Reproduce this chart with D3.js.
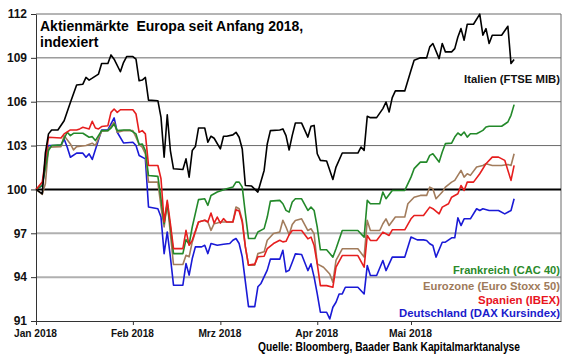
<!DOCTYPE html>
<html><head><meta charset="utf-8">
<script src="https://cdn.jsdelivr.net/npm/d3@7"></script>
<style>
html,body{margin:0;padding:0;background:#fff;}
svg{display:block;font-family:"Liberation Sans",Arial,sans-serif;font-weight:bold;}
</style></head>
<body><svg id="c" width="580" height="358"></svg>
<script>
const yTicks = [91, 94, 97, 100, 103, 106, 109, 112];
const monthTicks = ["2018-01-01", "2018-02-01", "2018-03-01", "2018-04-01", "2018-05-01"];
const monthLabels = ["Jan 2018", "Feb 2018", "Mrz 2018", "Apr 2018", "Mai 2018"];
const title = ["Aktienmärkte  Europa seit Anfang 2018,", "indexiert"];
const source = "Quelle: Bloomberg, Baader Bank Kapitalmarktanalyse";
const seriesNames = ["Italien (FTSE MIB)", "Frankreich (CAC 40)", "Eurozone (Euro Stoxx 50)", "Spanien (IBEX)", "Deutschland (DAX Kursindex)"];

const italien = [["01-01",100],["01-03",99.7],["01-04",102.5],["01-05",103.8],["01-06",104.07],["01-08",104.07],["01-10",104.7],["01-12",105.95],["01-14",107.14],["01-16",107.2],["01-17",107.66],["01-18",107.48],["01-19",107.61],["01-21",107.89],["01-22",108.61],["01-24",108.61],["01-25",109.2],["01-26",108.91],["01-28",108.05],["01-29",108.68],["01-30",109.09],["02-01",109.09],["02-02",108.91],["02-03",107.43],["02-04",107.48],["02-05",107.66],["02-06",106.11],["02-09",106.07],["02-10",104.93],["02-11",102.2],["02-12",105.11],["02-13",102.66],["02-14",101.41],["02-17",101.36],["02-18",102.09],["02-19",100.84],["02-20",102.66],["02-21",102.93],["02-22",104.2],["02-24",104.2],["02-25",103.23],["02-26",103.64],["02-27",103.5],["03-01",102.77],["03-02",103.64],["03-03",103.64],["03-05",103.73],["03-06",103.91],["03-07",103.57],["03-08",102.77],["03-09",100.27],["03-11",100.23],["03-13",99.82],["03-15",101.3],["03-16",103.11],["03-17",104.02],["03-20",104.07],["03-21",104.14],["03-22",103.68],["03-23",102.7],["03-24",103.7],["03-25",104.54],["03-27",104.54],["03-29",103.58],["03-30",104.32],["03-31",104.38],["04-01",102.44],["04-02",101.99],["04-04",101.94],["04-06",100.68],["04-07",101.53],["04-09",102.49],["04-14",102.49],["04-15",102.9],["04-16",102.67],["04-17",105.0],["04-18",104.91],["04-20",104.91],["04-22",105.53],["04-23",105.98],["04-24",105.3],["04-25",106.28],["04-26",106.74],["04-29",106.74],["05-01",108.15],["05-02",108.84],["05-04",109.0],["05-06",109.0],["05-07",109.75],["05-08",109.98],["05-10",108.95],["05-11",109.98],["05-12",109.41],["05-14",109.41],["05-15",109.63],["05-16",110.43],["05-17",111.0],["05-18",110.21],["05-19",111.3],["05-21",111.3],["05-23",111.99],["05-24",110.55],["05-25",111.0],["05-26",109.98],["05-27",110.55],["05-30",110.55],["06-01",111.16],["06-02",108.61],["06-03",108.88]];

const frankreich = [["01-01",100],["01-03",100.27],["01-05",102.66],["01-06",103.0],["01-09",103.05],["01-11",103.91],["01-12",103.68],["01-13",103.84],["01-16",103.84],["01-18",103.57],["01-19",103.61],["01-20",103.34],["01-22",104.02],["01-24",104.02],["01-25",104.2],["01-26",104.48],["01-27",104.02],["01-29",104.07],["01-31",104.07],["02-02",103.8],["02-03",103.07],["02-04",103.11],["02-05",102.66],["02-06",100.95],["02-09",100.89],["02-10",99.36],["02-11",97.66],["02-12",99.02],["02-13",97.43],["02-14",95.61],["02-17",95.61],["02-18",96.57],["02-19",96.25],["02-20",97.43],["02-22",99.3],["02-24",99.36],["02-25",98.91],["02-26",99.59],["02-28",99.82],["03-03",100.05],["03-05",100.16],["03-06",100.5],["03-07",100.5],["03-08",100.16],["03-09",98.34],["03-10",96.64],["03-12",96.64],["03-13",97.09],["03-15",97.32],["03-16",98.11],["03-17",99.2],["03-20",99.25],["03-21",99.02],["03-22",98.57],["03-23",98.45],["03-24",99.14],["03-25",99.36],["03-27",99.36],["03-29",98.56],["03-30",98.79],["03-31",98.56],["04-01",97.42],["04-02",95.87],["04-04",95.87],["04-06",95.37],["04-07",95.94],["04-09",97.19],["04-14",97.19],["04-16",96.74],["04-17",99.25],["04-18",99.02],["04-21",99.02],["04-22",99.82],["04-23",99.36],["04-25",99.93],["04-29",99.93],["05-01",100.84],["05-02",101.42],["05-04",101.87],["05-06",101.87],["05-07",102.33],["05-08",102.44],["05-10",101.87],["05-11",102.56],["05-12",103.13],["05-14",103.17],["05-15",103.58],["05-16",103.86],["05-17",103.7],["05-18",103.93],["05-19",103.58],["05-20",103.81],["05-22",103.81],["05-24",104.04],["05-25",104.27],["05-26",104.32],["05-30",104.32],["06-01",104.61],["06-02",105.07],["06-03",105.8]];

const eurozone = [["01-01",100],["01-03",99.66],["01-04",100.39],["01-05",102.89],["01-09",102.93],["01-10",103.68],["01-12",103.11],["01-13",102.7],["01-14",102.93],["01-17",103.0],["01-19",103.16],["01-20",103.0],["01-22",103.98],["01-24",104.02],["01-26",104.59],["01-27",103.91],["01-29",104.02],["02-01",104.02],["02-02",103.57],["02-03",103.07],["02-04",102.89],["02-05",102.43],["02-06",100.5],["02-09",100.5],["02-10",98.8],["02-11",97.43],["02-12",99.14],["02-13",96.98],["02-14",94.86],["02-17",94.86],["02-18",95.5],["02-19",95.39],["02-20",96.41],["02-22",97.77],["02-24",97.89],["02-25",97.77],["02-26",97.2],["02-27",97.66],["02-28",97.7],["03-01",97.77],["03-05",97.77],["03-06",98.8],["03-07",98.68],["03-08",97.89],["03-09",96.07],["03-10",94.82],["03-12",94.82],["03-13",95.61],["03-15",95.73],["03-16",96.52],["03-18",96.98],["03-20",97.09],["03-21",97.89],["03-22",97.43],["03-23",96.9],["03-24",97.6],["03-25",97.88],["03-27",97.99],["03-29",97.19],["03-30",97.31],["03-31",96.96],["04-01",94.91],["04-03",94.68],["04-05",94.22],["04-06",93.65],["04-07",95.14],["04-09",95.94],["04-14",95.94],["04-16",95.37],["04-17",97.88],["04-18",97.19],["04-21",97.19],["04-22",97.65],["04-23",97.99],["04-24",97.53],["04-26",98.11],["04-29",98.11],["04-30",99.02],["05-02",99.47],["05-04",99.59],["05-06",99.59],["05-07",100.16],["05-08",100.05],["05-09",99.36],["05-11",99.82],["05-12",100.16],["05-14",100.5],["05-15",100.62],["05-17",101.3],["05-18",100.84],["05-19",101.07],["05-20",100.96],["05-22",101.53],["05-24",101.64],["05-25",101.76],["05-27",101.64],["05-30",101.64],["06-01",101.71],["06-02",101.64],["06-03",102.44]];

const spanien = [["01-01",100],["01-03",100.5],["01-05",103.57],["01-09",103.52],["01-10",103.8],["01-12",104.07],["01-14",104.07],["01-15",104.14],["01-16",104.25],["01-18",104.14],["01-19",104.66],["01-20",104.2],["01-21",104.14],["01-22",104.3],["01-24",104.36],["01-25",105.27],["01-26",105.5],["01-27",105.27],["01-28",105.45],["02-01",105.45],["02-02",105.16],["02-03",103.91],["02-04",104.02],["02-05",103.8],["02-06",101.64],["02-09",101.64],["02-10",100.73],["02-11",97.77],["02-12",99.25],["02-13",97.66],["02-14",95.95],["02-17",95.95],["02-18",97.2],["02-19",96.18],["02-20",96.52],["02-22",97.77],["02-24",97.89],["02-25",97.77],["02-26",98.39],["02-27",97.7],["02-28",98.11],["03-01",97.7],["03-02",98.0],["03-03",97.77],["03-05",97.77],["03-06",98.61],["03-07",98.52],["03-08",97.77],["03-09",96.07],["03-10",94.82],["03-12",94.89],["03-13",95.39],["03-15",95.43],["03-16",95.95],["03-18",96.3],["03-20",96.52],["03-21",96.41],["03-22",96.45],["03-23",96.9],["03-24",97.19],["03-25",97.19],["03-27",97.19],["03-29",96.62],["03-30",96.74],["03-31",96.16],["04-01",94.91],["04-02",93.42],["04-04",93.42],["04-06",93.31],["04-07",94.68],["04-09",95.48],["04-14",95.48],["04-16",94.68],["04-17",96.85],["04-18",96.51],["04-20",96.51],["04-22",97.08],["04-24",96.85],["04-25",97.24],["04-29",97.24],["05-01",97.99],["05-02",98.22],["05-05",98.22],["05-07",98.79],["05-08",98.68],["05-10",98.33],["05-11",98.79],["05-13",99.02],["05-14",99.47],["05-16",99.7],["05-17",100.27],["05-18",99.93],["05-19",100.5],["05-21",100.5],["05-23",101.07],["05-25",101.76],["05-27",102.21],["05-29",102.21],["05-31",101.99],["06-02",100.62],["06-03",101.64]];

const deutschland = [["01-01",100],["01-03",100.27],["01-05",103.0],["01-09",103.0],["01-10",103.45],["01-11",102.89],["01-12",102.2],["01-14",102.48],["01-16",102.48],["01-17",102.2],["01-18",102.43],["01-19",102.05],["01-22",104.07],["01-24",104.07],["01-26",104.89],["01-27",103.91],["01-29",103.18],["02-01",103.23],["02-02",103.0],["02-03",102.32],["02-05",102.09],["02-06",98.8],["02-09",98.68],["02-10",98.11],["02-11",95.61],["02-12",97.09],["02-13",95.39],["02-14",93.45],["02-17",93.45],["02-18",94.93],["02-19",94.14],["02-20",95.27],["02-21",96.07],["02-23",96.07],["02-24",96.18],["02-25",95.61],["02-26",96.3],["02-28",96.18],["03-02",96.25],["03-04",96.3],["03-05",96.52],["03-06",96.64],["03-07",96.3],["03-08",95.39],["03-10",91.98],["03-12",91.98],["03-13",93.34],["03-14",93.57],["03-16",94.48],["03-17",95.23],["03-20",95.23],["03-21",95.84],["03-22",94.36],["03-23",94.47],["03-24",95.02],["03-25",95.59],["03-27",95.55],["03-29",94.45],["03-30",94.91],["03-31",94.0],["04-01",92.85],["04-02",91.6],["04-04",91.6],["04-05",91.14],["04-06",91.94],["04-07",92.28],["04-08",92.85],["04-09",92.85],["04-10",93.31],["04-14",93.31],["04-16",92.85],["04-17",94.79],["04-18",94.11],["04-20",94.11],["04-22",95.14],["04-23",94.45],["04-25",95.37],["04-29",95.37],["05-01",96.74],["05-03",96.55],["05-05",96.55],["05-06",96.51],["05-07",96.28],["05-08",96.16],["05-09",95.37],["05-11",96.39],["05-12",96.39],["05-14",96.69],["05-15",96.69],["05-16",98.06],["05-17",97.53],["05-18",97.99],["05-20",97.99],["05-22",98.68],["05-23",98.56],["05-24",98.68],["05-26",98.56],["05-29",98.56],["05-31",98.33],["06-02",98.56],["06-03",99.36]];

const parse = d3.timeParse("%Y-%m-%d");
const svg = d3.select("#c");
const x = d3.scaleTime().domain([parse("2018-01-01"), parse("2018-06-18")]).range([36, 561]);
const y = d3.scaleLinear().domain([91, 112]).range([321, 14]);

// grid lines
const grid = svg.append("g");
yTicks.filter(v => v !== 91 && v !== 100).forEach(v => {
  const light = v < 100;
  grid.append("line").attr("x1", 36).attr("x2", 561).attr("y1", y(v)).attr("y2", y(v))
    .attr("stroke", light ? "#b0b0b0" : "#6a6a6a").attr("stroke-width", light ? 2 : 1);
});
// right frame
grid.append("line").attr("x1", 561).attr("x2", 561).attr("y1", y(112)).attr("y2", y(91))
  .attr("stroke", "#6a6a6a").attr("stroke-width", 1);

// y axis
const yAxis = svg.append("g").attr("transform", "translate(36,0)")
  .call(d3.axisLeft(y).tickValues(yTicks).tickSize(5).tickSizeOuter(0).tickPadding(4).tickFormat(d3.format("d")));
yAxis.select(".domain").attr("stroke", "#333");
yAxis.selectAll(".tick line").attr("stroke", "#333");
yAxis.selectAll("text").attr("font-size", 12).attr("font-weight", "bold").attr("fill", "#111")
  .attr("font-family", "'Liberation Sans', Arial, sans-serif");

// x axis
const xAxis = svg.append("g").attr("transform", "translate(0," + y(91) + ")")
  .call(d3.axisBottom(x).tickValues(monthTicks.map(parse)).tickSize(4).tickSizeOuter(0).tickPadding(4)
    .tickFormat((d, i) => monthLabels[i]));
xAxis.select(".domain").attr("stroke", "#333");
xAxis.selectAll(".tick line").attr("stroke", "#333");
xAxis.selectAll("text").attr("font-size", 11).attr("font-weight", "bold").attr("fill", "#111")
  .attr("font-family", "'Liberation Sans', Arial, sans-serif")
  .attr("textLength", 43).attr("lengthAdjust", "spacingAndGlyphs").attr("dx", -1);

// baseline 100
svg.append("line").attr("x1", 36).attr("x2", 561).attr("y1", y(100)).attr("y2", y(100))
  .attr("stroke", "#000").attr("stroke-width", 2);

// lines
const toPts = arr => arr.map(d => ({date: parse("2018-" + d[0]), v: d[1]}));
const line = d3.line().x(d => x(d.date)).y(d => y(d.v));
const series = [
  {data: deutschland, color: "#1a1ad6"},
  {data: eurozone, color: "#a27c5c"},
  {data: frankreich, color: "#23892a"},
  {data: spanien, color: "#e61e1e"},
  {data: italien, color: "#000000"}
];
series.forEach(s => {
  svg.append("path").datum(toPts(s.data)).attr("d", line)
    .attr("fill", "none").attr("stroke", s.color).attr("stroke-width", 1.6)
    .attr("stroke-linejoin", "round");
});

// title
const t = svg.append("text").attr("x", 40).attr("font-size", 14).attr("font-weight", "bold").attr("fill", "#000");
t.append("tspan").attr("x", 40).attr("y", 31).attr("xml:space", "preserve").text(title[0]);
t.append("tspan").attr("x", 40).attr("y", 47).text(title[1]);

// labels
const labels = [
  {text: seriesNames[0], color: "#111111", y: 83, len: 96},
  {text: seriesNames[1], color: "#2a8a2a", y: 274, len: 107},
  {text: seriesNames[2], color: "#9e7a5a", y: 289.5, len: 137},
  {text: seriesNames[3], color: "#e8141e", y: 303.5, len: 82},
  {text: seriesNames[4], color: "#1a1acc", y: 317, len: 161}
];
labels.forEach(l => {
  svg.append("text").attr("x", 560).attr("y", l.y).attr("text-anchor", "end")
    .attr("font-size", 11).attr("font-weight", "bold").attr("fill", l.color)
    .attr("textLength", l.len).attr("lengthAdjust", "spacingAndGlyphs").text(l.text);
});

svg.append("text").attr("x", 520).attr("y", 350.5).attr("text-anchor", "end")
  .attr("font-size", 12).attr("font-weight", "bold").attr("fill", "#000")
  .attr("textLength", 262).attr("lengthAdjust", "spacingAndGlyphs").text(source);
</script></body></html>
